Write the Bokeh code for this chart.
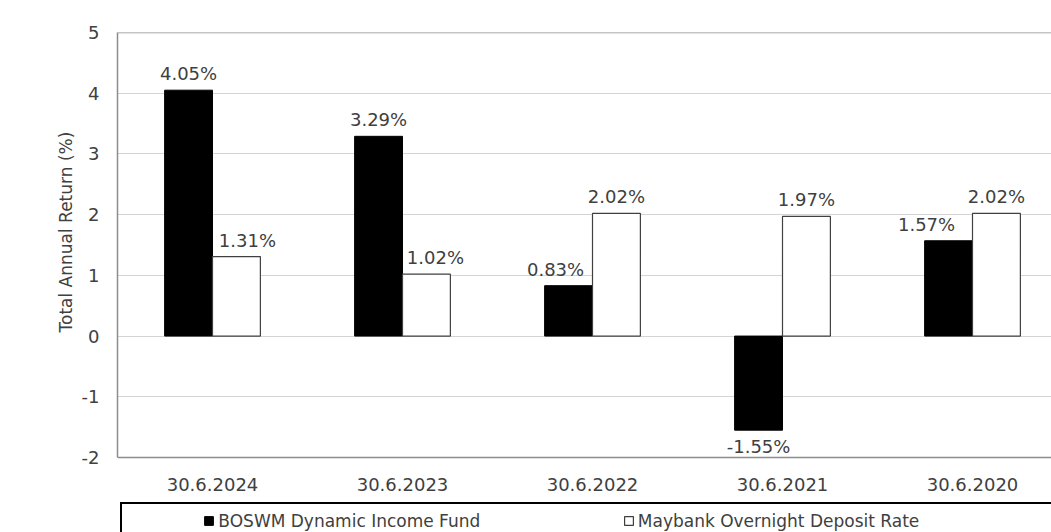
import numpy as np
from bokeh.plotting import figure
from bokeh.models import (ColumnDataSource, Range1d, FixedTicker, Legend, LegendItem, Span,
                          Title)
from bokeh.core.properties import value
from bokeh.embed import file_html
from bokeh.resources import INLINE

# ---------------- data ----------------
categories = ["30.6.2024", "30.6.2023", "30.6.2022", "30.6.2021", "30.6.2020"]
fund_name = "BOSWM Dynamic Income Fund"
bench_name = "Maybank Overnight Deposit Rate"
fund_values = [4.05, 3.29, 0.83, -1.55, 1.57]
bench_values = [1.31, 1.02, 2.02, 1.97, 2.02]
y_ticks = [-2, -1, 0, 1, 2, 3, 4, 5]
y_title = "Total Annual Return (%)"

# ---------------- style / layout ----------------
FONT = "DejaVu Sans"
TXT = "#404040"
FRAME = "#8c8c8c"
GRID = "#d4d4d4"

W, H = 1051, 532
LEFT, TOP = 117, 32
PLOT_BOTTOM = 457            # pixel row of the lowest tick (-2)
y_lo, y_hi = min(y_ticks), max(y_ticks)
px_per_unit = (PLOT_BOTTOM - TOP) / (y_hi - y_lo)
y_start = y_hi - (H - TOP) / px_per_unit   # frame extends to canvas bottom (legend area)
x_end = (W - LEFT) / 190.0

n = len(categories)
centers = np.arange(n) + 0.5
bw = 0.252
off = bw / 2

p = figure(width=W, height=H, output_backend="svg", toolbar_location=None,
           x_range=Range1d(0, x_end), y_range=Range1d(y_start, y_hi),
           min_border_left=LEFT, min_border_right=0, min_border_top=TOP,
           min_border_bottom=0)
p.outline_line_color = None
p.background_fill_color = "white"

r1 = p.vbar(x=centers - off, top=fund_values, bottom=0, width=bw,
            fill_color="black", line_color="black", line_width=1)
r2 = p.vbar(x=centers + off, top=bench_values, bottom=0, width=bw,
            fill_color="white", line_color="#404040", line_width=1.2)
# invisible renderer used only as spacer entries in the legend
r0 = p.vbar(x=[], top=[], width=0.1, fill_alpha=0, line_alpha=0)

# data labels (small label shifts mimic the original's collision avoidance)
fund_dx = [0, 0, -13, 0, -22]
bench_dx = [11, 9, 0, 0, 0]
lx = list(centers - off) + list(centers + off)
ly = list(fund_values) + list(bench_values)
lt = [f"{v:.2f}%" for v in ly]
ldx = fund_dx + bench_dx
ldy = [-6 if v >= 0 else 6 for v in ly]
lbase = ["bottom" if v >= 0 else "top" for v in ly]
lsrc = ColumnDataSource(dict(x=lx, y=ly, t=lt, dx=ldx, dy=ldy, b=lbase))
p.text(x="x", y="y", text="t", x_offset="dx", y_offset="dy", source=lsrc,
       text_align="center", text_baseline="b", text_font=value(FONT),
       text_font_size="18px", text_color=TXT)

# grid
p.xgrid.grid_line_color = None
p.ygrid.ticker = FixedTicker(ticks=y_ticks)
p.ygrid.grid_line_color = GRID
p.ygrid.grid_line_width = 1

# y axis
p.yaxis.ticker = FixedTicker(ticks=y_ticks)
p.yaxis.bounds = (y_lo, y_hi)
p.yaxis.major_label_overrides = {t: str(t) for t in y_ticks}
p.yaxis.major_label_text_font = FONT
p.yaxis.major_label_text_font_size = "18px"
p.yaxis.major_label_text_color = TXT
p.yaxis.major_label_standoff = 12
p.yaxis.major_tick_line_color = None
p.yaxis.minor_tick_line_color = None
p.yaxis.axis_line_color = FRAME
p.yaxis.axis_line_width = 1.5

# y axis title, centred on the value range rather than the whole frame
p.add_layout(Title(text=y_title, align="left", offset=H - 332, standoff=5,
                   text_font=FONT, text_font_size="17px", text_font_style="normal",
                   text_color=TXT), "left")

# x axis, pinned at the bottom of the value range
p.xaxis.fixed_location = y_lo
p.xaxis.ticker = FixedTicker(ticks=list(centers))
p.xaxis.major_label_overrides = {float(c): lab for c, lab in zip(centers, categories)}
p.xaxis.major_label_text_font = FONT
p.xaxis.major_label_text_font_size = "18px"
p.xaxis.major_label_text_color = TXT
p.xaxis.major_label_standoff = 14
p.xaxis.major_tick_line_color = None
p.xaxis.minor_tick_line_color = None
p.xaxis.axis_line_color = FRAME
p.xaxis.axis_line_width = 1.5

# top frame border
p.add_layout(Span(location=y_hi, dimension="width", line_color=FRAME, line_width=1.5))

EM, EN, SIX = "\u2003", "\u2002", "\u2006"
legend = Legend(items=[LegendItem(label=EM * 3 + EN + SIX, renderers=[r0]),
                       LegendItem(label=fund_name, renderers=[r1]),
                       LegendItem(label=EM * 7 + EN, renderers=[r0]),
                       LegendItem(label=bench_name, renderers=[r2]),
                       LegendItem(label=EM * 8, renderers=[r0])],
                orientation="horizontal", location=(3, -7), padding=4, margin=0,
                spacing=0, border_line_color="black", border_line_width=2,
                border_line_alpha=1, background_fill_alpha=0,
                glyph_width=11, glyph_height=11, label_standoff=4,
                label_height=25,
                label_text_font=FONT, label_text_font_size="17px",
                label_text_color=TXT)
p.add_layout(legend, "center")

open("out.html", "w").write(file_html(p, INLINE))
